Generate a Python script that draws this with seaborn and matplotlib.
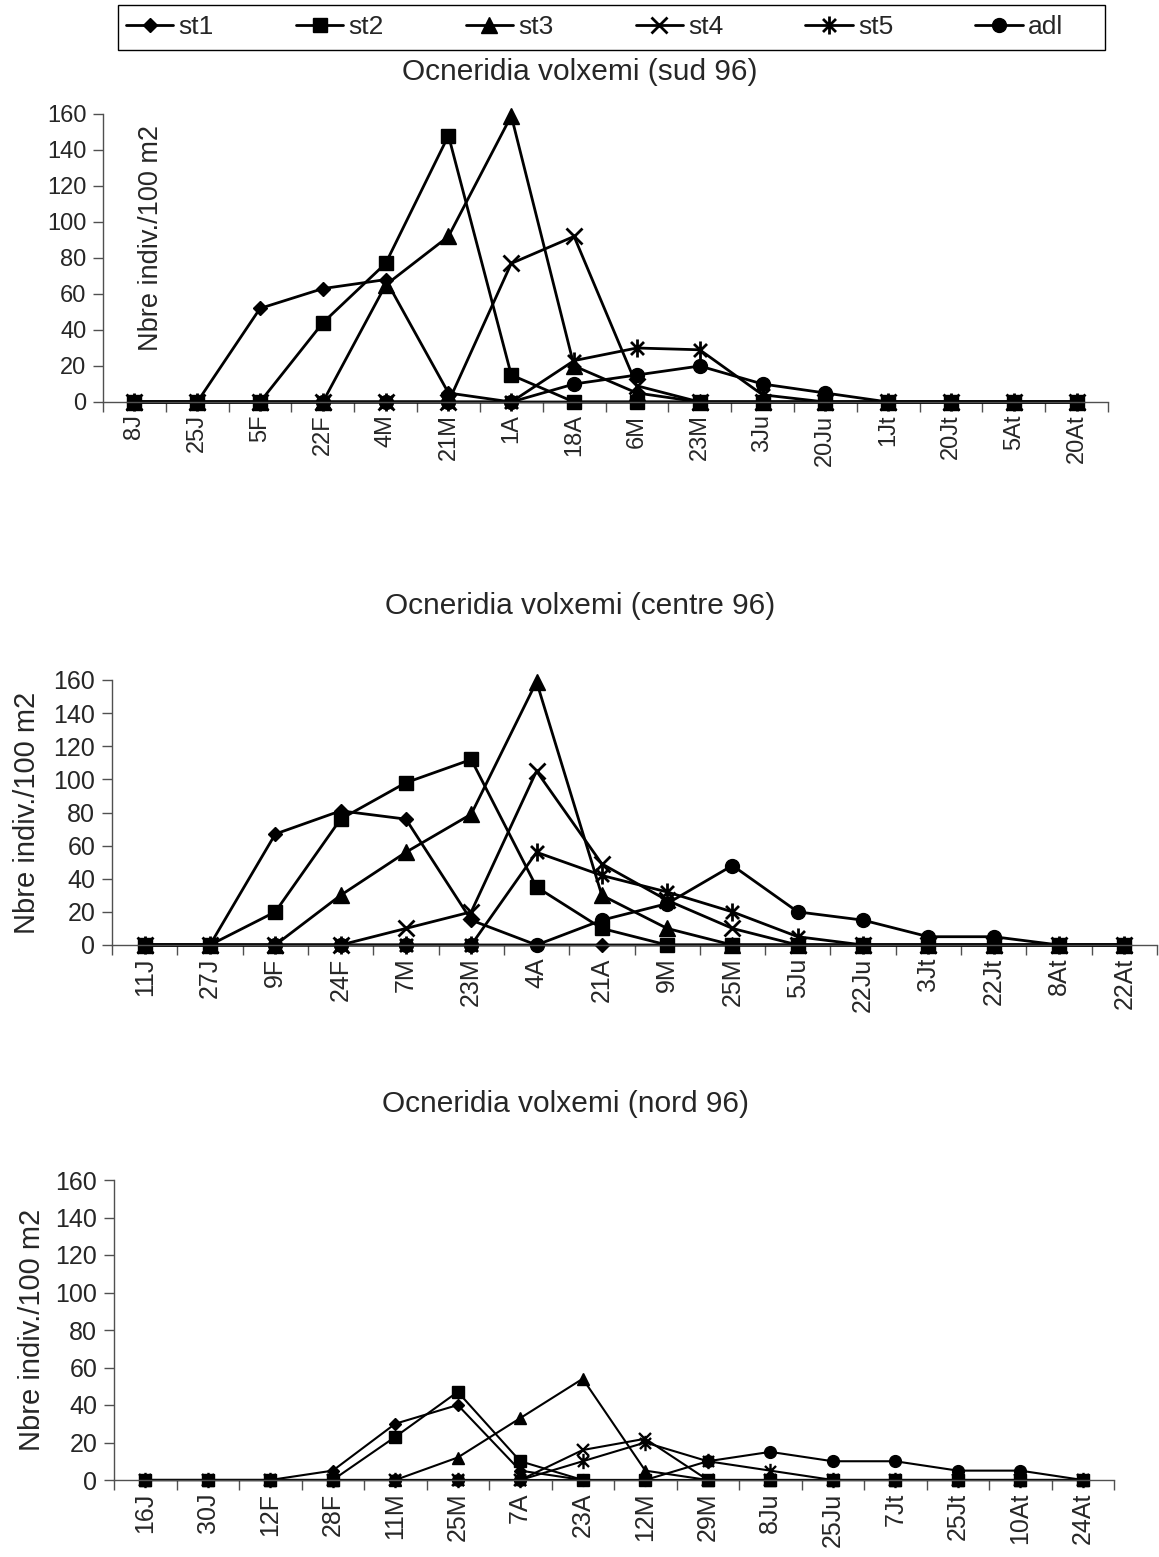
import numpy as np
import pandas as pd
import matplotlib
matplotlib.use("Agg")
import matplotlib.pyplot as plt
import seaborn as sns
from matplotlib.path import Path
from matplotlib.lines import Line2D
from matplotlib.patches import Rectangle

sns.set_theme(style="ticks")
plt.rcParams['font.family'] = ['Liberation Sans', 'DejaVu Sans']

series = ['st1', 'st2', 'st3', 'st4', 'st5', 'adl']

# ---- Panel 1 : sud 96
title_sud = "Ocneridia volxemi (sud 96)"
dates_sud = ['8J', '25J', '5F', '22F', '4M', '21M', '1A', '18A', '6M', '23M',
             '3Ju', '20Ju', '1Jt', '20Jt', '5At', '20At']
sud_st1 = [0, 0, 52, 63, 68, 5, 0, 0, 0, 0, 0, 0, 0, 0, 0, 0]
sud_st2 = [0, 0, 0, 44, 77, 148, 15, 0, 0, 0, 0, 0, 0, 0, 0, 0]
sud_st3 = [0, 0, 0, 0, 65, 92, 159, 20, 5, 0, 0, 0, 0, 0, 0, 0]
sud_st4 = [0, 0, 0, 0, 0, 0, 77, 92, 9, 0, 0, 0, 0, 0, 0, 0]
sud_st5 = [0, 0, 0, 0, 0, 0, 0, 23, 30, 29, 4, 0, 0, 0, 0, 0]
sud_adl = [0, 0, 0, 0, 0, 0, 0, 10, 15, 20, 10, 5, 0, 0, 0, 0]

# ---- Panel 2 : centre 96
title_centre = "Ocneridia volxemi (centre 96)"
dates_centre = ['11J', '27J', '9F', '24F', '7M', '23M', '4A', '21A', '9M', '25M',
                '5Ju', '22Ju', '3Jt', '22Jt', '8At', '22At']
centre_st1 = [0, 0, 67, 81, 76, 15, 0, 0, 0, 0, 0, 0, 0, 0, 0, 0]
centre_st2 = [0, 0, 20, 76, 98, 112, 35, 10, 0, 0, 0, 0, 0, 0, 0, 0]
centre_st3 = [0, 0, 0, 30, 56, 79, 159, 30, 10, 0, 0, 0, 0, 0, 0, 0]
centre_st4 = [0, 0, 0, 0, 10, 20, 105, 49, 27, 10, 0, 0, 0, 0, 0, 0]
centre_st5 = [0, 0, 0, 0, 0, 0, 56, 42, 32, 20, 5, 0, 0, 0, 0, 0]
centre_adl = [0, 0, 0, 0, 0, 0, 0, 15, 25, 48, 20, 15, 5, 5, 0, 0]

# ---- Panel 3 : nord 96
title_nord = "Ocneridia volxemi (nord 96)"
dates_nord = ['16J', '30J', '12F', '28F', '11M', '25M', '7A', '23A', '12M', '29M',
              '8Ju', '25Ju', '7Jt', '25Jt', '10At', '24At']
nord_st1 = [0, 0, 0, 5, 30, 40, 5, 0, 0, 0, 0, 0, 0, 0, 0, 0]
nord_st2 = [0, 0, 0, 0, 23, 47, 10, 0, 0, 0, 0, 0, 0, 0, 0, 0]
nord_st3 = [0, 0, 0, 0, 0, 12, 33, 54, 5, 0, 0, 0, 0, 0, 0, 0]
nord_st4 = [0, 0, 0, 0, 0, 0, 0, 16, 22, 0, 0, 0, 0, 0, 0, 0]
nord_st5 = [0, 0, 0, 0, 0, 0, 0, 10, 20, 10, 5, 0, 0, 0, 0, 0]
nord_adl = [0, 0, 0, 0, 0, 0, 0, 0, 0, 10, 15, 10, 10, 5, 5, 0]

y_ticks = [0, 20, 40, 60, 80, 100, 120, 140, 160]
ylabel = "Nbre indiv./100 m2"


def make_df(dates, cols):
    frames = []
    for name, vals in zip(series, cols):
        frames.append(pd.DataFrame({'date': dates, 'value': vals, 'serie': name}))
    return pd.concat(frames, ignore_index=True)


df_sud = make_df(dates_sud, [sud_st1, sud_st2, sud_st3, sud_st4, sud_st5, sud_adl])
df_centre = make_df(dates_centre, [centre_st1, centre_st2, centre_st3, centre_st4, centre_st5, centre_adl])
df_nord = make_df(dates_nord, [nord_st1, nord_st2, nord_st3, nord_st4, nord_st5, nord_adl])

star = Path([(0, -1), (0, 1), (-0.72, -0.72), (0.72, 0.72), (-0.72, 0.72), (0.72, -0.72)],
            [Path.MOVETO, Path.LINETO, Path.MOVETO, Path.LINETO, Path.MOVETO, Path.LINETO])


def styles(scale):
    return {
        'st1': dict(marker='D', markersize=7.5 * scale, markeredgewidth=1),
        'st2': dict(marker='s', markersize=10 * scale, markeredgewidth=1),
        'st3': dict(marker='^', markersize=11 * scale, markeredgewidth=1),
        'st4': dict(marker='x', markersize=11 * scale, markeredgewidth=2 * scale),
        'st5': dict(marker=star, markersize=13 * scale, markeredgewidth=2 * scale),
        'adl': dict(marker='o', markersize=10 * scale, markeredgewidth=1),
    }


W, H = 1159, 1557
fig = plt.figure(figsize=(W / 100, H / 100), dpi=100)


def px_axes(left, right, top, bottom):
    return fig.add_axes([left / W, 1 - bottom / H, (right - left) / W, (bottom - top) / H])


# (data, axes, marker scale, line width, tick font, ylabel font, title y, title text, title x)
panels = [
    (df_sud, px_axes(103, 1108, 114, 402), 1.0, 2.0, 17, 19.5, 72, title_sud, 580),
    (df_centre, px_axes(112, 1157, 680, 945), 1.0, 2.0, 18, 21, 606, title_centre, 580),
    (df_nord, px_axes(114, 1114, 1180, 1480), 0.85, 1.5, 18, 21, 1104, title_nord, 566),
]

gray = '#505050'
for i, (df, ax, mscale, lw, tfs, yfs, ty, title, tx) in enumerate(panels):
    st = styles(mscale)
    for s in series:
        sub = df[df['serie'] == s]
        sns.lineplot(data=sub, x='date', y='value', ax=ax, color='black',
                     linewidth=lw, sort=False, estimator=None, clip_on=False,
                     markeredgecolor='black', markerfacecolor='black', **st[s])
    ax.set_xlim(-0.5, 15.5)
    ax.set_ylim(0, 160)
    ax.set_yticks(y_ticks)
    ax.set_xticks(np.arange(-0.5, 16, 1), minor=True)
    ax.tick_params(axis='x', which='major', length=0, pad=9, labelsize=tfs,
                   labelrotation=90)
    ax.tick_params(axis='x', which='minor', length=7, width=1, color=gray, bottom=True)
    ax.tick_params(axis='y', which='major', length=7, width=1, color=gray, pad=5,
                   labelsize=tfs, left=True)
    for lab in ax.get_xticklabels():
        lab.set_verticalalignment('top')
    for sp in ['top', 'right']:
        ax.spines[sp].set_visible(False)
    for sp in ['left', 'bottom']:
        ax.spines[sp].set_color(gray)
        ax.spines[sp].set_linewidth(1)
    ax.set_xlabel('')
    ax.set_ylabel(ylabel, fontsize=yfs)
    if i == 0:
        ax.yaxis.set_label_coords(0.061, 0.57)
    else:
        ax.yaxis.set_label_coords(-0.068, 0.5)
    ax.set_facecolor('white')
    fig.text(tx / W, 1 - ty / H, title, ha='center', va='center', fontsize=21.5)

# legend
st = styles(1.0)
handles = [Line2D([0], [0], color='black', linewidth=2, markeredgecolor='black',
                  markerfacecolor='black', **st[s]) for s in series]
fig.legend(handles, series, loc='center left', bbox_to_anchor=(118 / W, 1 - 27.5 / H),
           ncol=6, frameon=False, fontsize=19, handlelength=1.8, handletextpad=0.2,
           columnspacing=3.1, borderpad=0.3, borderaxespad=0)
fig.patches.append(Rectangle((118 / W, 1 - 50 / H), 987 / W, 45 / H, transform=fig.transFigure,
                             fill=False, edgecolor='black', linewidth=1))

fig.savefig('out.png', dpi=100, facecolor='white')
